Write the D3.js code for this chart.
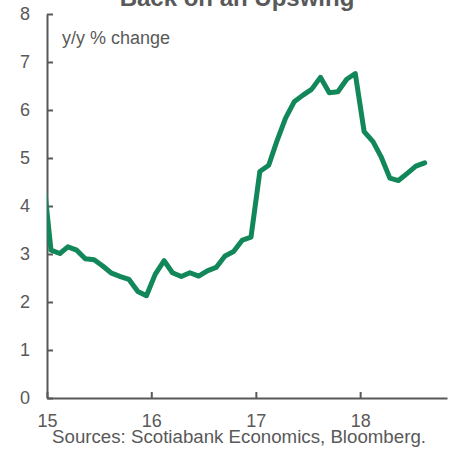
<!DOCTYPE html>
<html>
<head>
<meta charset="utf-8">
<script src="https://cdn.jsdelivr.net/npm/d3@7"></script>
<style>
  body { margin: 0; background: #fff; }
  text { font-family: "Liberation Sans", Arial, sans-serif; fill: #595959; }
</style>
</head>
<body>
<script>
// monthly observations, Dec 2014 .. Aug 2018 (first point sits left of the axis and gets clipped)
var months = ["2014-12",
  "2015-01","2015-02","2015-03","2015-04","2015-05","2015-06","2015-07","2015-08","2015-09","2015-10","2015-11","2015-12",
  "2016-01","2016-02","2016-03","2016-04","2016-05","2016-06","2016-07","2016-08","2016-09","2016-10","2016-11","2016-12",
  "2017-01","2017-02","2017-03","2017-04","2017-05","2017-06","2017-07","2017-08","2017-09","2017-10","2017-11","2017-12",
  "2018-01","2018-02","2018-03","2018-04","2018-05","2018-06","2018-07","2018-08"];
var values = [4.84,
  3.08,3.01,3.15,3.08,2.90,2.88,2.75,2.60,2.53,2.47,2.22,2.13,
  2.58,2.86,2.61,2.53,2.61,2.54,2.65,2.72,2.96,3.05,3.29,3.35,
  4.72,4.85,5.34,5.83,6.17,6.31,6.43,6.68,6.36,6.38,6.64,6.76,
  5.55,5.34,5.03,4.58,4.53,4.68,4.83,4.90];
var yTicks = [0,1,2,3,4,5,6,7,8];
var title = "Back on an Upswing";
var unitLabel = "y/y % change";
var source = "Sources: Scotiabank Economics, Bloomberg.";

var width = 452, height = 454;
var parse = d3.timeParse("%Y-%m");
var data = months.map(function(m, i){
  var d = parse(m);
  return { date: d3.timeDay.offset(d, 14), value: values[i] };
});

var svg = d3.select("body").append("svg")
  .attr("width", width)
  .attr("height", height);

var x = d3.scaleTime()
  .domain([new Date(2015,0,1), new Date(2018,10,1)])
  .range([47, 447]);
var y = d3.scaleLinear()
  .domain([0, 8])
  .range([398, 14]);

svg.append("clipPath").attr("id", "plot")
  .append("rect")
  .attr("x", x.range()[0]).attr("y", 0)
  .attr("width", x.range()[1] - x.range()[0]).attr("height", height);

// title (mostly cut off at the top)
svg.append("text")
  .attr("x", 237).attr("y", 6)
  .attr("text-anchor", "middle")
  .style("font-size", "24px")
  .style("font-weight", "bold")
  .text(title);

svg.append("text")
  .attr("x", 62).attr("y", 44)
  .style("font-size", "18px")
  .text(unitLabel);

// y axis
var yAxis = svg.append("g")
  .attr("transform", "translate(" + x.range()[0] + ",0)")
  .call(d3.axisRight(y).tickValues(yTicks).tickSize(6).tickSizeOuter(0).tickFormat(d3.format("d")));
yAxis.select(".domain").attr("stroke", "#595959").attr("stroke-width", 2);
yAxis.selectAll(".tick line").attr("stroke", "#595959").attr("stroke-width", 2);
yAxis.selectAll(".tick text")
  .attr("x", -17).attr("text-anchor", "end")
  .style("font-size", "18px").attr("fill", "#595959");

// x axis
var xAxis = svg.append("g")
  .attr("transform", "translate(0," + y(0) + ")")
  .call(d3.axisTop(x).ticks(d3.timeYear.every(1)).tickSize(6).tickSizeOuter(0).tickFormat(d3.timeFormat("%y")));
xAxis.select(".domain").attr("stroke", "#595959").attr("stroke-width", 2);
xAxis.selectAll(".tick line").attr("stroke", "#595959").attr("stroke-width", 2);
xAxis.selectAll(".tick text")
  .attr("y", 29).attr("dy", null)
  .style("font-size", "18px").attr("fill", "#595959");

// the line
var line = d3.line()
  .x(function(d){ return x(d.date); })
  .y(function(d){ return y(d.value); });

svg.append("path")
  .datum(data)
  .attr("clip-path", "url(#plot)")
  .attr("d", line)
  .attr("fill", "none")
  .attr("stroke", "#12875a")
  .attr("stroke-width", 5)
  .attr("stroke-linejoin", "round")
  .attr("stroke-linecap", "round");

svg.append("text")
  .attr("x", 239).attr("y", 443)
  .attr("text-anchor", "middle")
  .style("font-size", "18.7px")
  .text(source);
</script>
</body>
</html>
